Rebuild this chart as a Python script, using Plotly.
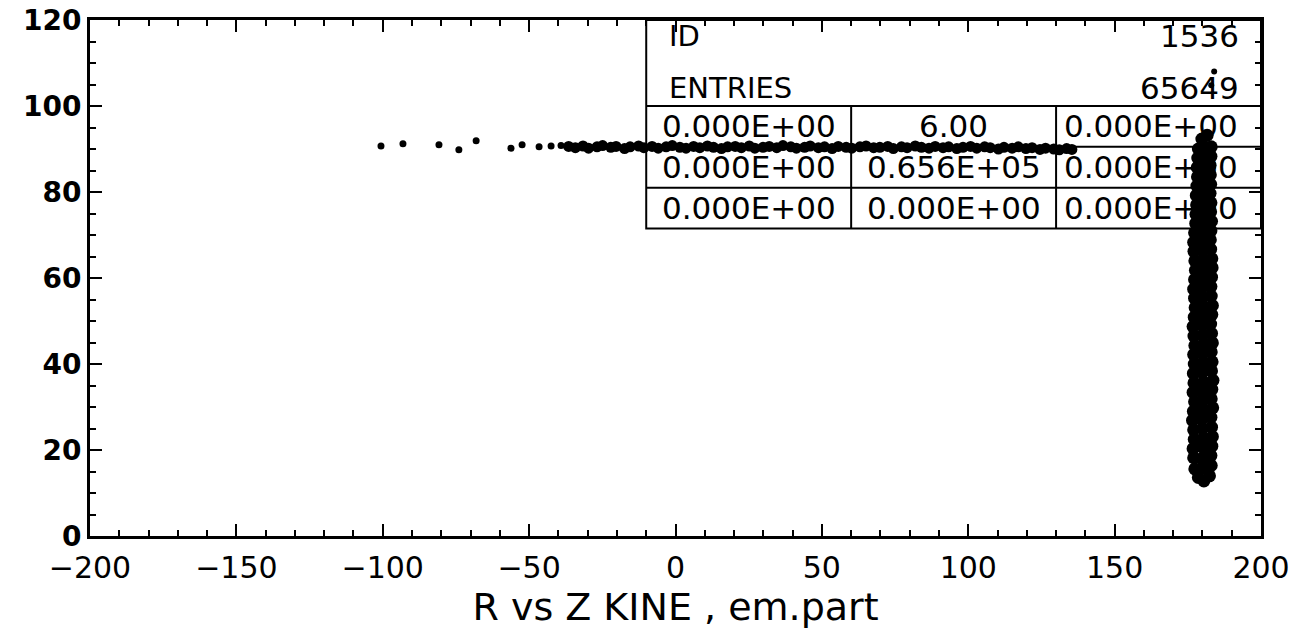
import plotly.graph_objects as go

# ---------------- data ----------------
# sparse points on the left end of the horizontal band
sparse_x = [-100.6, -93.1, -80.8, -74.0, -68.1, -56.2, -52.4, -46.6, -42.5, -39.1]
sparse_y = [90.7, 91.2, 91.0, 89.8, 91.9, 90.2, 91.0, 90.5, 90.7, 90.8]

# dense horizontal band at R ~ 90
band_x = [-36.5, -34.2, -31.6, -29.7, -26.8, -24.9, -22.1, -20.3, -17.4, -15.5, -12.6, -10.8,
          -8.0, -5.9, -3.2, -1.1, 1.5, 3.6, 6.2, 8.3, 10.9, 13.0, 15.7, 17.8, 20.4, 22.5,
          25.2, 27.1, 29.9, 32.0, 34.6, 36.7, 39.4, 41.3, 44.1, 46.0, 48.8, 50.9, 53.5, 55.6,
          58.3, 60.2, 63.0, 65.1, 67.7, 69.8, 72.5, 74.4, 77.2, 79.1, 81.9, 84.0, 86.6, 88.7,
          91.4, 93.3, 96.1, 98.2, 100.8, 102.9, 105.6, 107.5, 110.3, 112.2, 115.0, 117.1,
          119.7, 121.8, 124.5, 126.4, 129.2, 131.1, 133.6, 135.4]
band_y = [90.6, 90.3, 90.7, 90.2, 90.5, 90.8, 90.4, 90.6, 90.1, 90.5, 90.7, 90.3,
          90.6, 90.2, 90.5, 90.8, 90.4, 90.2, 90.6, 90.3, 90.7, 90.4, 90.1, 90.5, 90.6, 90.3,
          90.7, 90.2, 90.4, 90.6, 90.3, 90.8, 90.5, 90.2, 90.4, 90.7, 90.3, 90.5, 90.1, 90.6,
          90.4, 90.2, 90.5, 90.7, 90.3, 90.4, 90.6, 90.1, 90.5, 90.3, 90.7, 90.4, 90.2, 90.6,
          90.3, 90.5, 90.1, 90.4, 90.6, 90.2, 90.5, 90.3, 90.0, 90.4, 90.2, 90.5,
          90.1, 90.3, 89.9, 90.2, 90.0, 89.8, 90.1, 89.9]

# vertical band at Z ~ 180
vert_x = [180.5, 178.6, 182.4, 177.4, 180.2, 183.0, 177.0, 179.8, 182.9, 176.8, 180.1, 183.2,
          177.2, 180.4, 183.4, 177.0, 180.0, 183.1, 176.6, 179.7, 182.9, 176.9, 180.3, 183.5,
          177.3, 180.2, 183.0, 176.8, 179.9, 183.2, 177.1, 180.4, 183.6, 176.9, 180.0, 183.1,
          177.2, 180.3, 183.3, 177.0, 180.1, 183.0, 177.4, 180.5, 183.4, 177.1, 180.2, 183.1,
          176.8, 179.9, 182.8, 177.2, 180.3, 183.2, 177.5, 180.4, 183.4, 177.3, 180.1, 183.0,
          177.0, 179.8, 182.9, 177.3, 180.2, 183.1, 177.6, 180.5, 183.3, 177.4, 180.3, 183.2,
          177.1, 180.0, 182.8, 177.0, 179.9, 182.7, 177.3, 180.2, 182.9, 177.7, 180.4, 183.1,
          177.8, 180.3, 182.8, 178.0, 180.5, 182.9, 177.9, 180.4, 182.6, 178.1, 180.6, 182.8,
          178.3, 180.7, 182.7, 178.2, 180.5, 182.6, 178.4, 180.8, 182.9, 178.6, 181.0, 183.0,
          179.8, 181.6]
vert_y = [12.8, 13.6, 14.0, 15.6, 15.9, 16.4, 18.2, 18.0, 18.7, 20.3, 20.6, 20.9,
          22.5, 22.8, 23.1, 24.7, 25.0, 25.3, 26.9, 27.1, 27.6, 29.0, 29.4, 29.8,
          31.2, 31.6, 31.9, 33.4, 33.7, 34.1, 35.6, 35.8, 36.2, 37.8, 38.0, 38.4,
          40.0, 40.3, 40.5, 42.2, 42.4, 42.8, 44.3, 44.6, 44.9, 46.5, 46.8, 47.1,
          48.7, 49.0, 49.3, 50.9, 51.1, 51.5, 53.1, 53.3, 53.6, 55.3, 55.5, 55.8,
          57.4, 57.7, 58.0, 59.6, 59.9, 60.2, 61.8, 62.0, 62.4, 64.0, 64.2, 64.5,
          66.2, 66.4, 66.7, 68.3, 68.6, 68.9, 70.5, 70.8, 71.0, 72.7, 72.9, 73.2,
          74.8, 75.1, 75.4, 77.0, 77.2, 77.5, 79.2, 79.4, 79.7, 81.4, 81.6, 81.8,
          83.5, 83.7, 84.0, 85.7, 85.9, 86.2, 87.9, 88.1, 88.3, 90.0, 90.3, 90.5,
          92.3, 93.2]

# two isolated points above the box line
top_x = [183.0, 184.0]
top_y = [104.8, 108.0]

# statistics box
box_id = "1536"
box_entries = "65649"
box_cells = [["0.000E+00", "6.00", "0.000E+00"],
             ["0.000E+00", "0.656E+05", "0.000E+00"],
             ["0.000E+00", "0.000E+00", "0.000E+00"]]
box_cols = [-10, 60, 130, 200]
box_rows = [120, 100, 90.5, 81.0, 71.5]

x_title = "R vs Z KINE , em.part"

# ---------------- figure ----------------
fig = go.Figure()
fig.add_trace(go.Scatter(x=sparse_x, y=sparse_y, mode="markers",
                         marker=dict(color="black", size=7), showlegend=False))
fig.add_trace(go.Scatter(x=band_x, y=band_y, mode="markers",
                         marker=dict(color="black", size=11), showlegend=False))
fig.add_trace(go.Scatter(x=vert_x, y=vert_y, mode="markers",
                         marker=dict(color="black", size=13), showlegend=False))
fig.add_trace(go.Scatter(x=top_x, y=top_y, mode="markers",
                         marker=dict(color="black", size=6), showlegend=False))

# table lines
lw = 2
shapes = []
shapes.append(dict(type="rect", x0=box_cols[0], x1=box_cols[-1], y0=box_rows[-1], y1=box_rows[0],
                   line=dict(color="black", width=lw), layer="below"))
for r in box_rows[1:-1]:
    shapes.append(dict(type="line", x0=box_cols[0], x1=box_cols[-1], y0=r, y1=r,
                       line=dict(color="black", width=lw), layer="below"))
for c in box_cols[1:-1]:
    shapes.append(dict(type="line", x0=c, x1=c, y0=box_rows[-1], y1=box_rows[1],
                       line=dict(color="black", width=lw), layer="below"))
fig.update_layout(shapes=shapes)

tfont = dict(family="DejaVu Sans", size=31, color="black")
lfont = dict(family="DejaVu Sans", size=29, color="black")
ann = []
ann.append(dict(x=box_cols[0] + 7, y=116.3, text="ID", xanchor="left", yanchor="middle",
                showarrow=False, font=lfont))
ann.append(dict(x=box_cols[0] + 7, y=104.3, text="ENTRIES", xanchor="left", yanchor="middle",
                showarrow=False, font=lfont))
ann.append(dict(x=193, y=116.3, text=box_id, xanchor="right", yanchor="middle",
                showarrow=False, font=tfont))
ann.append(dict(x=193, y=104.3, text=box_entries, xanchor="right", yanchor="middle",
                showarrow=False, font=tfont))
for i, row in enumerate(box_cells):
    yc = (box_rows[i + 1] + box_rows[i + 2]) / 2
    for j, txt in enumerate(row):
        xc = (box_cols[j] + box_cols[j + 1]) / 2
        if j == 2:
            xc -= 2.5
        ann.append(dict(x=xc, y=yc, text=txt, xanchor="center", yanchor="middle",
                        showarrow=False, font=tfont))
fig.update_layout(annotations=ann)

axis_common = dict(showline=True, linecolor="black", linewidth=3, mirror="ticks",
                   ticks="inside", tickcolor="black", tickwidth=2,
                   showgrid=False, zeroline=False, automargin=False)
fig.update_xaxes(range=[-200, 200], dtick=50, tick0=0, ticklen=12,
                 minor=dict(dtick=10, ticklen=6, ticks="inside", tickcolor="black", tickwidth=2),
                 tickfont=dict(family="DejaVu Sans", size=30, color="black"),
                 ticklabelstandoff=3,
                 title=dict(text=x_title, font=dict(family="DejaVu Sans", size=38, color="black"),
                            standoff=4),
                 **axis_common)
fig.update_yaxes(range=[0, 120], dtick=20, tick0=0, ticklen=12,
                 minor=dict(dtick=5, ticklen=6, ticks="inside", tickcolor="black", tickwidth=2),
                 tickfont=dict(family="DejaVu Sans", size=28, color="black", weight="bold"),
                 **axis_common)

fig.update_layout(width=1295, height=641, plot_bgcolor="white", paper_bgcolor="white",
                  margin=dict(l=90, r=34, t=20, b=105))

fig.write_html("out.html")
